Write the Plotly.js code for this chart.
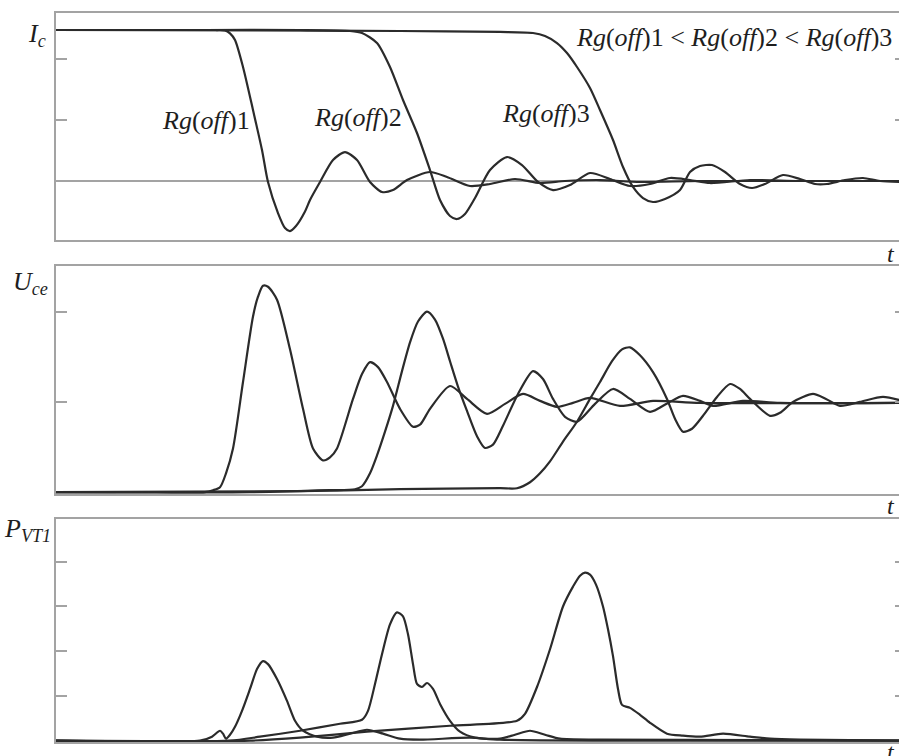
<!DOCTYPE html>
<html>
<head>
<meta charset="utf-8">
<script src="https://cdn.plot.ly/plotly-3.0.1.min.js"></script>
<style>
html,body{margin:0;padding:0;background:#fff;overflow:hidden;}
#chart{width:910px;height:756px;}
</style>
</head>
<body>
<div id="chart"></div>
<script>
// ---------- DATA (time in arbitrary units, values in arbitrary units) ----------
// Collector current Ic
const t_ic1 = [0,100,160,169,174,179,187,197,206,212,222,229,234,240,249,254,264,277,289,301,314,326,337,351,374,391,414,434,459,484,509,544,584,644,850];
const ic1   = [2.475,2.475,2.475,2.470,2.420,2.311,1.869,1.164,0.508,-0.016,-0.525,-0.770,-0.820,-0.738,-0.50,-0.311,-0.016,0.344,0.475,0.344,-0.016,-0.180,-0.148,0.016,0.148,0.066,-0.082,-0.049,0.033,-0.033,0,0.016,-0.016,0,0];
const t_ic2 = [0,150,244,294,306,321,334,347,361,374,384,394,401,409,419,434,451,466,482,497,514,534,554,574,594,614,634,654,694,744,850];
const ic2   = [2.475,2.475,2.475,2.459,2.426,2.262,1.869,1.328,0.787,0.180,-0.311,-0.574,-0.623,-0.541,-0.279,0.180,0.393,0.262,-0.016,-0.148,-0.066,0.131,0.033,-0.082,-0.049,0.049,0.016,-0.033,0.016,0,0];
const t_ic3 = [0,200,344,444,477,489,501,511,521,534,544,557,567,577,587,597,609,624,634,644,656,669,684,696,709,727,744,759,771,789,807,824,850];
const ic3   = [2.475,2.470,2.459,2.443,2.426,2.377,2.262,2.098,1.869,1.525,1.164,0.672,0.230,-0.098,-0.279,-0.344,-0.295,-0.148,0.148,0.246,0.262,0.148,-0.049,-0.115,-0.049,0.098,0.033,-0.049,-0.049,0.016,0.049,0,-0.016];

// Collector-emitter voltage Uce
const t_u1 = [0,100,149,157,164,170,177,187,197,202,207,212,221,234,247,257,267,274,281,297,306,314,322,331,344,357,364,374,394,411,431,449,467,484,501,517,534,564,597,644,850];
const u1   = [0,0,0,0.022,0.055,0.209,0.484,1.220,1.945,2.165,2.286,2.275,2.132,1.582,0.923,0.484,0.352,0.385,0.484,1.033,1.308,1.440,1.385,1.220,0.923,0.725,0.747,0.923,1.176,1.033,0.868,0.978,1.088,1.011,0.945,0.989,1.044,0.956,1.011,0.989,0.989];
const t_u2 = [0,194,274,299,306,314,321,329,337,346,354,362,371,379,387,394,402,411,421,429,437,447,462,477,487,497,509,521,539,557,574,594,612,627,644,657,687,724,850];
const u2   = [0,0,0.022,0.033,0.066,0.209,0.407,0.670,0.956,1.341,1.659,1.890,2.000,1.912,1.700,1.450,1.170,0.900,0.620,0.490,0.527,0.736,1.088,1.341,1.253,1.033,0.835,0.780,0.978,1.143,1.033,0.890,0.989,1.066,1.011,0.956,1.011,0.989,0.989];
const t_u3 = [0,244,344,444,461,474,484,494,507,521,534,544,556,566,574,584,597,611,619,627,636,647,661,674,684,694,714,724,737,757,770,784,804,827,850];
const u3   = [0,0.011,0.033,0.044,0.044,0.110,0.209,0.341,0.560,0.780,1.033,1.220,1.451,1.582,1.604,1.516,1.330,1.033,0.813,0.670,0.703,0.846,1.055,1.198,1.143,1.033,0.846,0.879,1.000,1.088,1.033,0.956,1.000,1.055,1.000];

// Power loss of VT1
const t_p1 = [0,144,156,164,167,170,174,179,186,194,201,207,212,221,231,239,247,261,277,294,311,327,344,364,414,444,850];
const p1   = [0,0,0.089,0.222,0.156,0.044,0.133,0.311,0.667,1.156,1.600,1.778,1.711,1.378,0.889,0.444,0.222,0.089,0.067,0.156,0.244,0.156,0.044,0.022,0.067,0.022,0];
const t_p2 = [0,174,204,244,284,306,312,319,326,334,341,347,352,357,361,366,371,377,384,394,404,419,444,459,474,489,504,544,850];
const p2   = [0,0,0.089,0.222,0.378,0.467,0.667,1.267,1.933,2.600,2.867,2.778,2.378,1.711,1.267,1.200,1.289,1.156,0.822,0.444,0.200,0.067,0.044,0.133,0.222,0.133,0.044,0.022,0];
const t_p3 = [0,194,244,311,394,461,469,481,494,507,517,524,529,534,540,547,552,557,562,566,574,584,594,611,627,644,667,694,714,744,850];
const p3   = [0,0,0.067,0.200,0.333,0.444,0.600,1.200,2.044,3.000,3.444,3.689,3.756,3.711,3.489,3.000,2.489,1.889,1.156,0.800,0.733,0.578,0.400,0.156,0.111,0.089,0.156,0.089,0.044,0.022,0];

const ticks_ic = [1, 2];
const ticks_u  = [1, 2];
const ticks_p  = [1, 2, 3, 4];

// ---------- STYLE ----------
const W = 910, H = 756, L = 56, R = 4;
const PW = W - L - R;
const lineColor = '#2b2b2b';
const frameColor = '#a3a3a3';
const serif = '"Liberation Serif", "Times New Roman", Times, serif';

function tr(x, y, xa, ya) {
  return {x: x, y: y, xaxis: xa, yaxis: ya, mode: 'lines', type: 'scatter',
          line: {color: lineColor, width: 2.2, shape: 'spline', smoothing: 0.7},
          hoverinfo: 'skip', showlegend: false};
}
const data = [
  tr(t_ic1, ic1, 'x', 'y'), tr(t_ic2, ic2, 'x', 'y'), tr(t_ic3, ic3, 'x', 'y'),
  tr(t_u1, u1, 'x2', 'y2'), tr(t_u2, u2, 'x2', 'y2'), tr(t_u3, u3, 'x2', 'y2'),
  tr(t_p1, p1, 'x3', 'y3'), tr(t_p2, p2, 'x3', 'y3'), tr(t_p3, p3, 'x3', 'y3')
];

function xax(anchor) {
  return {anchor: anchor, range: [0, 850], showline: true, mirror: true, linecolor: frameColor,
          linewidth: 2, showgrid: false, zeroline: false, showticklabels: false, ticks: '', fixedrange: true};
}
function yax(anchor, range, dom, tv, zl) {
  return {anchor: anchor, range: range, domain: dom, showline: true, mirror: 'ticks', linecolor: frameColor,
          linewidth: 2, showgrid: false, zeroline: zl, zerolinecolor: frameColor, zerolinewidth: 2,
          showticklabels: false, ticks: 'inside', ticklen: 11, tickwidth: 2, tickcolor: frameColor,
          tickmode: 'array', tickvals: tv, fixedrange: true};
}
const py = p => 1 - p / H;
const px = p => (p - L) / PW;

function ann(text, x, y, size, xanchor) {
  return {text: text, xref: 'paper', yref: 'paper', x: px(x), y: py(y), xanchor: xanchor || 'center',
          yanchor: 'middle', showarrow: false, font: {family: serif, size: size, color: '#1e1e1e'}};
}
const rg = n => '<i>Rg</i>(<i>off</i>)' + n;

const layout = {
  width: W, height: H, margin: {l: L, r: R, t: 0, b: 0},
  paper_bgcolor: '#fff', plot_bgcolor: '#fff', showlegend: false,
  font: {family: serif},
  xaxis: xax('y'), xaxis2: xax('y2'), xaxis3: xax('y3'),
  yaxis: yax('x', [-0.967, 2.754], [py(240), py(13)], ticks_ic, true),
  yaxis2: yax('x2', [-0.02, 2.505], [py(494), py(266)], ticks_u, false),
  yaxis3: yax('x3', [-0.03, 4.956], [py(742), py(519)], ticks_p, false),
  annotations: [
    ann(rg(1), 206, 121, 26), ann(rg(2), 358, 118, 26), ann(rg(3), 546, 113, 26),
    ann(rg(1) + ' &lt; ' + rg(2) + ' &lt; ' + rg(3), 734, 38, 26),
    ann('<i>I</i><sub><i>c</i></sub>', 48, 35, 26, 'right'),
    ann('<i>U</i><sub><i>ce</i></sub>', 50, 283, 26, 'right'),
    ann('<i>P</i><sub><i>VT1</i></sub>', 53, 530, 26, 'right'),
    ann('<i>t</i>', 897, 254, 24, 'right'),
    ann('<i>t</i>', 897, 506, 24, 'right'),
    ann('<i>t</i>', 897, 752, 24, 'right')
  ]
};
Plotly.newPlot('chart', data, layout, {staticPlot: true, displayModeBar: false});
</script>
</body>
</html>
